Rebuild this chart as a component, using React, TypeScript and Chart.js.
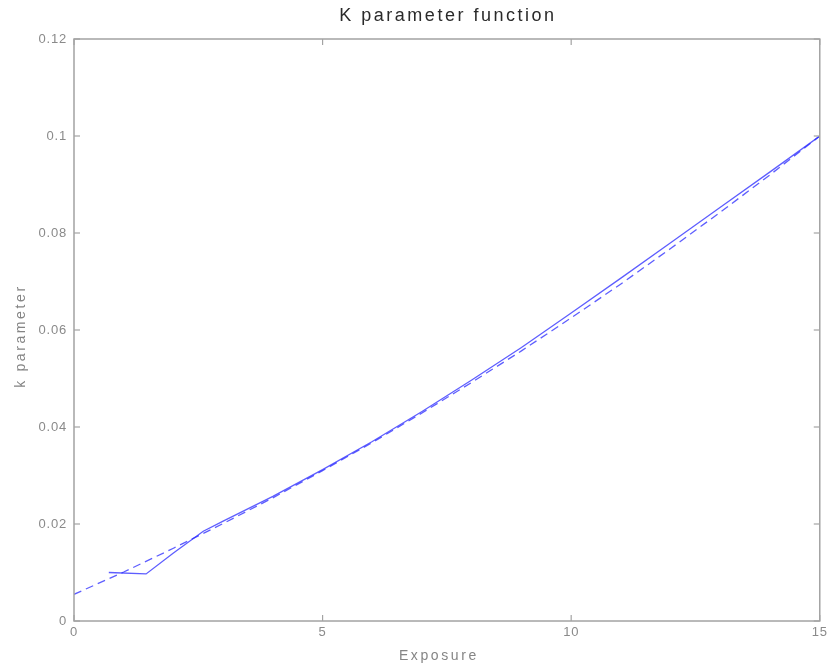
import { useEffect, useRef } from 'react';
import { Chart, registerables } from 'chart.js';

Chart.register(...registerables);

// Fitted k-parameter curve (dashed) sampled at whole exposure values
const exposureFit = [0, 1, 2, 3, 4, 5, 6, 7, 8, 9, 10, 11, 12, 13, 14, 15];
const kFit = [
  0.0055, 0.0101, 0.015, 0.0201, 0.0254, 0.031, 0.0368, 0.0429, 0.0492, 0.0557,
  0.0625, 0.0695, 0.0768, 0.0843, 0.092, 0.1,
];

// Tabulated k-parameter values (solid)
const exposureTable = [0.7, 1.45, 2, 2.6, 3, 4, 5, 6, 7, 8, 9, 10, 11, 12, 13, 14, 15];
const kTable = [
  0.01, 0.0097, 0.014, 0.0185, 0.0206, 0.0257, 0.0312, 0.037, 0.0432, 0.0497,
  0.0564, 0.0635, 0.0707, 0.078, 0.0853, 0.0926, 0.1,
];

const xTicks = [0, 5, 10, 15];
const xTickLabels = ['0', '5', '10', '15'];
const yTicks = [0, 0.02, 0.04, 0.06, 0.08, 0.1, 0.12];
const yTickLabels = ['0', '0.02', '0.04', '0.06', '0.08', '0.1', '0.12'];

const titleText = 'K parameter function';
const xTitle = 'Exposure';
const yTitle = 'k parameter';

const FONT = '"Liberation Sans", Arial, Helvetica, sans-serif';
const LINE = 'rgba(40, 40, 255, 0.75)';

// Box frame with inward tick marks on all four sides
const framePlugin = {
  id: 'boxFrame',
  afterDatasetsDraw(chart: any) {
    const { ctx, chartArea: a, scales } = chart;
    ctx.save();
    ctx.strokeStyle = '#a3a3a3';
    ctx.lineWidth = 1.5;
    ctx.strokeRect(a.left, a.top, a.right - a.left, a.bottom - a.top);
    ctx.lineWidth = 1.2;
    const len = 6;
    const seg = (x1: number, y1: number, x2: number, y2: number) => {
      ctx.beginPath();
      ctx.moveTo(x1, y1);
      ctx.lineTo(x2, y2);
      ctx.stroke();
    };
    for (const v of xTicks) {
      const px = scales.x.getPixelForValue(v);
      seg(px, a.bottom, px, a.bottom - len);
      seg(px, a.top, px, a.top + len);
    }
    for (const v of yTicks) {
      const py = scales.y.getPixelForValue(v);
      seg(a.left, py, a.left + len, py);
      seg(a.right, py, a.right - len, py);
    }
    ctx.restore();
  },
};

// Title and axis labels, drawn with spaced lettering
const textPlugin = {
  id: 'spacedText',
  beforeDraw(chart: any) {
    (chart.ctx as any).letterSpacing = '0.8px';
  },
  afterDraw(chart: any) {
    const { ctx, chartArea: a } = chart;
    const cx = (a.left + a.right) / 2;
    const cy = (a.top + a.bottom) / 2;
    ctx.save();
    ctx.textAlign = 'center';
    ctx.textBaseline = 'middle';

    ctx.font = `18px ${FONT}`;
    (ctx as any).letterSpacing = '2.5px';
    ctx.fillStyle = '#2a2a2a';
    ctx.fillText(titleText, cx + 1, 16);

    ctx.font = `14px ${FONT}`;
    (ctx as any).letterSpacing = '2.6px';
    ctx.fillStyle = '#858585';
    ctx.fillText(xTitle, cx - 8, 656);

    ctx.translate(21, cy + 6);
    ctx.rotate(-Math.PI / 2);
    ctx.fillText(yTitle, 0, 0);
    ctx.restore();
  },
};

export default function App() {
  const canvasRef = useRef<HTMLCanvasElement | null>(null);

  useEffect(() => {
    const canvas = canvasRef.current;
    if (!canvas) return;
    const chart = new Chart(canvas, {
      type: 'scatter',
      data: {
        datasets: [
          {
            label: 'table',
            data: exposureTable.map((x, i) => ({ x, y: kTable[i] })),
            showLine: true,
            borderColor: LINE,
            borderWidth: 1.3,
            pointRadius: 0,
            fill: false,
          },
          {
            label: 'fit',
            data: exposureFit.map((x, i) => ({ x, y: kFit[i] })),
            showLine: true,
            borderColor: LINE,
            borderWidth: 1.3,
            borderDash: [8, 5],
            pointRadius: 0,
            fill: false,
          },
        ],
      },
      options: {
        animation: false,
        responsive: false,
        devicePixelRatio: 1,
        layout: { padding: { top: 39, right: 11, left: 0, bottom: 0 } },
        plugins: {
          legend: { display: false },
          title: { display: false },
          tooltip: { enabled: false },
        },
        scales: {
          x: {
            type: 'linear',
            min: 0,
            max: 15,
            grid: { display: false, drawTicks: false },
            border: { display: false },
            afterBuildTicks: (scale: any) => {
              scale.ticks = xTicks.map((value) => ({ value }));
            },
            afterFit: (scale: any) => {
              scale.height = 48;
            },
            ticks: {
              padding: 4,
              maxRotation: 0,
              autoSkip: false,
              color: '#8a8a8a',
              font: { family: FONT, size: 13 },
              callback: (v: any) => xTickLabels[xTicks.indexOf(Number(v))] ?? '',
            },
          },
          y: {
            type: 'linear',
            min: 0,
            max: 0.12,
            grid: { display: false, drawTicks: false },
            border: { display: false },
            afterBuildTicks: (scale: any) => {
              scale.ticks = yTicks.map((value) => ({ value }));
            },
            afterFit: (scale: any) => {
              scale.width = 74;
            },
            ticks: {
              padding: 7,
              autoSkip: false,
              color: '#8a8a8a',
              font: { family: FONT, size: 13 },
              callback: (v: any) => {
                const i = yTicks.findIndex((t) => Math.abs(t - Number(v)) < 1e-9);
                return i >= 0 ? yTickLabels[i] : '';
              },
            },
          },
        },
      },
      plugins: [framePlugin, textPlugin],
    } as any);
    return () => chart.destroy();
  }, []);

  return (
    <div style={{ position: 'absolute', left: 0, top: 0, width: 831, height: 669, background: '#fff' }}>
      <canvas ref={canvasRef} width={831} height={669} />
    </div>
  );
}
